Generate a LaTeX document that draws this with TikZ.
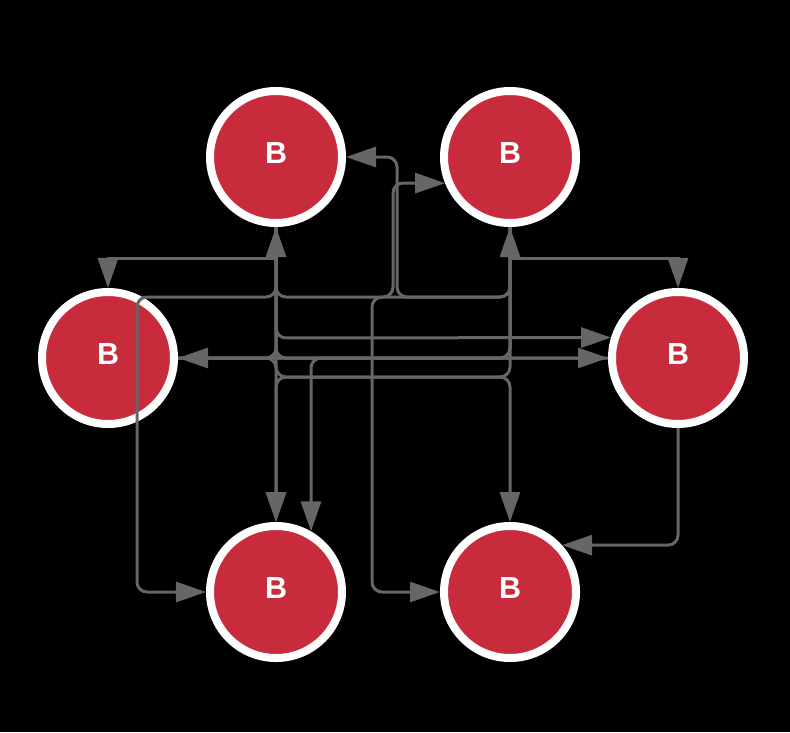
\documentclass[tikz,border=0pt]{standalone}
\usepackage{fontspec}
\setmainfont{Liberation Sans}
\usetikzlibrary{arrows.meta}
\definecolor{nodered}{RGB}{200,44,60}
\definecolor{edgegray}{RGB}{102,102,102}

\begin{document}
\begin{tikzpicture}[x = 0.03cm, y = -0.03cm, >={Triangle[length=0.9cm, width=0.6cm]},
  bnode/.style = {circle, fill = nodered, draw = white, line width = 0.24cm, minimum size = 3.96cm, inner sep = 0pt, text = white, text depth = 0.24cm, font = \fontsize{26}{30}\selectfont\bfseries},
  edge/.style = {edgegray, line width = 0.09cm, rounded corners = 0.3cm, ->}]
\fill[black] (0,0) rectangle (790,732);
\node[bnode] (tl) at (276,157) {B};
\node[bnode] (tr) at (510,157) {B};
\node[bnode] (ml) at (108,358) {B};
\node[bnode] (mr) at (678,358) {B};
\node[bnode] (bl) at (276,592) {B};
\node[bnode] (br) at (510,592) {B};
% upper row to middle row
\draw[edge, sharp corners] (tl.south) -- (276,258) -- (108,258) -- (ml.north);
\draw[edge, sharp corners] (tr.south) -- (510,258) -- (678,258) -- (mr.north);
\draw[edge] (ml.east) -- (276,358) -- (tl.south);
\draw[edge] (ml.east) -- (510,358) -- (tr.south);
\draw[edge] (tl.south) -- (276,297) -- (137,297) -- (137,592) -- (bl.west);
\draw[edge] (tl.south) -- (276,297) -- (393,297) -- (393,183) -- (tr.202);
\draw[edge] (tr.south) -- (510,297) -- (397,297) -- (397,157) -- (tl.east);
\draw[edge] (tl.south) -- (276,338) -- (mr.163);
\draw[edge] (tr.south) -- (510,358) -- (ml.east);
\draw[edge] (tl.south) -- (276,358) -- (mr.west);
\draw[edge] (ml.east) -- (276,358) -- (bl.north);
% long ones down to the bottom row
\draw[edge] (tl.south) -- (276,377) -- (510,377) -- (br.north);
\draw[edge] (tr.south) -- (510,377) -- (276,377) -- (bl.north);
\draw[edge] (mr.west) -- (bl.60 |- mr.west) -- (bl.60);
\draw[edge] (tr.south) -- (510,297) -- (372,297) -- (372,592) -- (br.west);
\draw[edge] (mr.south) -- (mr.south |- br.42) -- (br.42);
\end{tikzpicture}
\end{document}
